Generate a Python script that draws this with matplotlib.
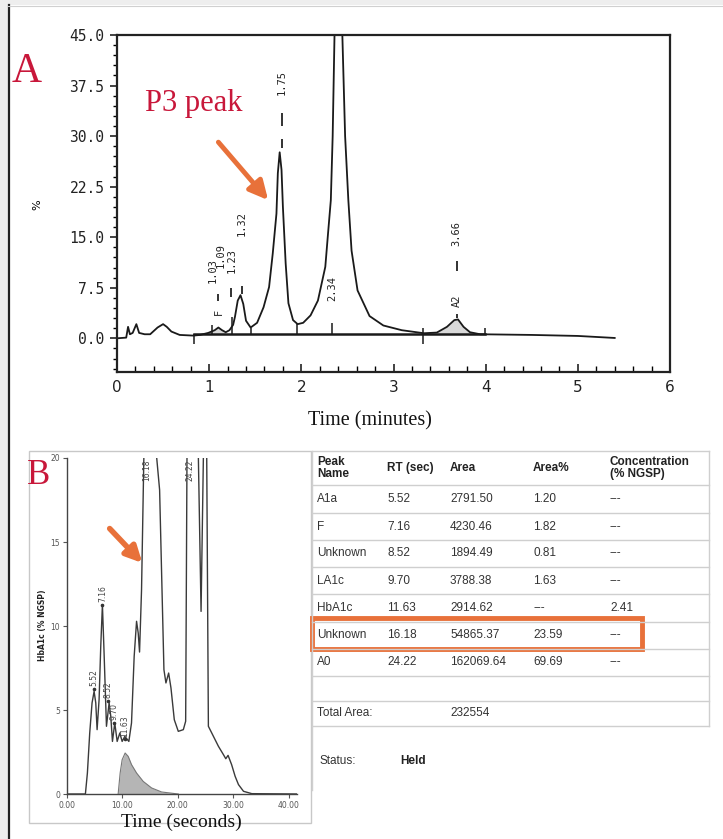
import numpy as np
import matplotlib.pyplot as plt
from matplotlib.patches import Rectangle
from matplotlib.ticker import MultipleLocator, FixedLocator

W, H = 723, 839

# %% data - panel A, HPLC trace (time in minutes, %)
a_time = [0.00, 0.10, 0.12, 0.14, 0.17, 0.21, 0.24, 0.30, 0.36, 0.44, 0.50, 0.54,
          0.59, 0.68, 0.83, 0.90, 0.99, 1.06, 1.10, 1.14, 1.18, 1.22, 1.26, 1.28,
          1.31, 1.34, 1.37, 1.40, 1.45, 1.52, 1.59, 1.65, 1.69, 1.73, 1.745, 1.765,
          1.785, 1.80, 1.83, 1.86, 1.91, 1.96, 2.02, 2.10, 2.18, 2.26, 2.29, 2.32,
          2.34, 2.36, 2.405, 2.445, 2.475, 2.51, 2.545, 2.61, 2.74, 2.89, 3.09,
          3.33, 3.47, 3.58, 3.66, 3.70, 3.76, 3.83, 3.94, 4.50, 5.00, 5.40]
a_pct = [0.0, 0.1, 1.7, 0.6, 0.8, 2.1, 0.8, 0.6, 0.6, 1.6, 2.1, 1.7,
         1.0, 0.5, 0.4, 0.5, 0.8, 1.2, 1.6, 1.2, 0.9, 1.2, 2.0, 3.2,
         5.6, 6.4, 5.1, 2.6, 1.6, 2.3, 4.6, 7.6, 12.6, 18.5, 24.5, 27.6,
         25.0, 19.5, 11.1, 5.2, 2.7, 2.1, 2.3, 3.4, 5.6, 10.6, 15.6, 20.5,
         30.0, 45.0, 60.0, 45.0, 30.0, 20.5, 13.0, 7.1, 3.3, 1.9, 1.2,
         0.75, 0.85, 1.7, 2.7, 2.8, 1.7, 0.9, 0.6, 0.5, 0.35, 0.05]

# peak retention-time labels (label, time, height of label centre)
a_lab = ['1.03', '1.09', '1.23', '1.32', '1.75', '2.34', '3.66', 'A2', 'F']
a_lab_t = [1.04, 1.125, 1.24, 1.355, 1.79, 2.34, 3.685, 3.685, 1.10]
a_lab_v = [10.1, 12.3, 11.6, 17.1, 37.9, 7.4, 15.6, 5.6, 3.9]
# peak delimiters on the baseline (time, low, high)
a_cut_t = [0.84, 1.03, 1.25, 1.45, 1.95, 2.33, 3.32, 3.99]
a_cut_lo = [-0.8, 0.6, 0.6, 0.6, 0.6, 0.6, -0.8, 0.6]
a_cut_hi = [0.6, 2.0, 3.1, 1.6, 2.1, 2.2, 1.6, 1.5]

# %% data - panel B, trace (time in seconds, HbA1c % NGSP)
b_time = [0.0, 3.32, 3.68, 4.10, 4.52, 4.89, 5.19, 5.43, 5.79, 6.09, 6.39, 6.69,
          7.12, 7.60, 7.90, 8.20, 8.62, 9.05, 9.53, 9.95, 10.43, 11.16, 11.64,
          12.12, 12.55, 12.85, 13.09, 13.45, 13.87, 15.0, 16.16, 16.71, 17.07,
          17.49, 17.85, 18.34, 18.76, 19.36, 20.08, 20.99, 21.41, 21.65, 22.7,
          23.70, 24.19, 24.61, 24.9, 25.21, 25.51, 26.12, 27.32, 28.23, 28.65,
          29.06, 29.70, 30.34, 30.94, 31.85, 33.35, 41.5]
b_val = [0.0, 0.0, 1.25, 3.63, 5.42, 6.11, 5.42, 3.83, 5.62, 8.79, 11.27, 8.39,
         4.03, 5.42, 4.62, 3.13, 4.23, 3.13, 3.63, 3.13, 3.43, 3.13, 4.23,
         8.19, 10.28, 9.58, 8.45, 12.16, 20.1, 30.0, 20.1, 18.1, 13.15,
         7.40, 6.61, 7.20, 6.31, 4.42, 3.73, 3.83, 4.33, 20.1, 30.0,
         20.1, 10.87, 20.1, 30.0, 20.1, 4.03, 3.63, 2.84, 2.34, 2.10,
         2.30, 1.75, 1.05, 0.56, 0.16, 0.02, 0.0]
# shaded HbA1c peak
b_fill_t = [9.23, 9.59, 9.95, 10.49, 11.04, 11.64, 12.55, 13.75, 15.26, 17.07, 20.08]
b_fill_v = [0.0, 1.25, 2.04, 2.44, 2.24, 1.75, 1.25, 0.75, 0.36, 0.12, 0.0]
b_lab = ['5.52', '7.16', '8.52', '9.70', '11.63']
b_lab_t = [4.89, 6.39, 7.45, 8.45, 10.45]
b_lab_v = [6.4, 11.4, 5.7, 4.4, 3.4]
b_top_lab = ['16.18', '24.22']
b_top_t = [14.35, 22.2]

# %% data - results table
col_heads = ['Peak\nName', 'RT (sec)', 'Area', 'Area%', 'Concentration\n(% NGSP)']
peak_name = ['A1a', 'F', 'Unknown', 'LA1c', 'HbA1c', 'Unknown', 'A0']
rt_sec = ['5.52', '7.16', '8.52', '9.70', '11.63', '16.18', '24.22']
area = ['2791.50', '4230.46', '1894.49', '3788.38', '2914.62', '54865.37', '162069.64']
area_pct = ['1.20', '1.82', '0.81', '1.63', '---', '23.59', '69.69']
conc = ['---', '---', '---', '---', '2.41', '---', '---']
total_area = '232554'
status = 'Held'

ORANGE = '#E8713A'
RED = '#C8173A'


def px_rect(x0, y0, x1, y1):
    return [x0 / W, 1 - y1 / H, (x1 - x0) / W, (y1 - y0) / H]


fig = plt.figure(figsize=(W / 100, H / 100), dpi=100)

# overlay in pixel units for frames, table and free text
ov = fig.add_axes([0, 0, 1, 1], zorder=0)
ov.set_xlim(0, W)
ov.set_ylim(H, 0)
ov.axis('off')
ov.add_patch(Rectangle((0, 0), 8, H, color='#eeeeee', lw=0))
ov.add_patch(Rectangle((0, 0), W, 5, color='#eeeeee', lw=0))
ov.plot([8.5, 8.5], [5, H], color='#222222', lw=1.6)
ov.plot([8, W], [5.5, 5.5], color='#d0d0d0', lw=0.8)

# %% panel A
ax1 = fig.add_axes(px_rect(117, 35, 670, 372), zorder=2)
ax1.set_facecolor('none')
ax1.plot(a_time, a_pct, color='#1a1a1a', lw=1.3)
ax1.plot([a_cut_t[0], a_cut_t[-1]], [0.6, 0.6], color='#1a1a1a', lw=1.8)
ta = np.array(a_time)
pa = np.array(a_pct)
m = (ta >= 3.47) & (ta <= 3.94)
ax1.fill_between(ta[m], 0.6, pa[m], color='#d9d9d9', lw=0)
m = (ta >= 0.99) & (ta <= 1.18)
ax1.fill_between(ta[m], 0.6, pa[m], color='#d9d9d9', lw=0)
ax1.vlines(a_cut_t, a_cut_lo, a_cut_hi, color='#1a1a1a', lw=1.1)
for lab, t, v in zip(a_lab, a_lab_t, a_lab_v):
    ax1.text(t, v, lab, rotation=90, ha='center', va='center',
             family='DejaVu Sans Mono', fontsize=7.5, color='#222222')
# small dashes above the labelled peaks
ax1.vlines([1.79, 1.79, 3.685, 3.685, 1.10, 1.24, 1.355],
           [31.5, 28.2, 10.0, 3.0, 5.5, 6.1, 6.6],
           [33.5, 29.5, 11.5, 3.6, 6.6, 7.4, 7.8], color='#222222', lw=1.3)

ax1.set_xlim(0, 6)
ax1.set_ylim(-5, 45)
ax1.xaxis.set_major_locator(MultipleLocator(1))
ax1.xaxis.set_minor_locator(MultipleLocator(0.2))
ax1.yaxis.set_major_locator(FixedLocator([0, 7.5, 15, 22.5, 30, 37.5, 45]))
ax1.yaxis.set_minor_locator(MultipleLocator(1.5))
ax1.yaxis.set_major_formatter(lambda v, p: f'{v:.1f}')
ax1.tick_params(axis='x', direction='in', length=6, width=1.2, labelsize=11,
                colors='#222222', pad=6)
ax1.tick_params(axis='x', which='minor', direction='in', length=4, width=1)
ax1.tick_params(axis='y', direction='out', length=5, width=1.2, labelsize=10.5,
                colors='#222222', pad=4)
ax1.tick_params(axis='y', which='minor', direction='out', length=3, width=1)
for lb in ax1.get_yticklabels():
    lb.set_family('DejaVu Sans Mono')
for s in ax1.spines.values():
    s.set_linewidth(1.6)
    s.set_color('#222222')

ax1.annotate('', xy=(1.64, 20.5), xytext=(1.10, 29.1),
             arrowprops=dict(arrowstyle='-|>', color=ORANGE, lw=3.5,
                             mutation_scale=28, shrinkA=0, shrinkB=0))
ov.text(12, 72, 'A', family='Liberation Serif', fontsize=30, color=RED,
        va='center', ha='left')
ov.text(145, 104, 'P3 peak', family='Liberation Serif', fontsize=22, color=RED,
        va='center', ha='left')
ov.text(37, 205, '%', rotation=90, fontsize=8, ha='center', va='center')
ov.text(370, 421, 'Time (minutes)', family='Liberation Serif', fontsize=14.5,
        ha='center', va='center', color='#111111')

# %% panel B
ov.add_patch(Rectangle((29, 451), 282, 372, fill=False, ec='#c8c8c8', lw=1))
ax2 = fig.add_axes(px_rect(67, 458, 297, 794), zorder=2)
ax2.set_facecolor('none')
ax2.fill_between(b_fill_t, 0, b_fill_v, color='#b5b5b5', lw=0)
ax2.plot(b_fill_t, b_fill_v, color='#777777', lw=0.8)
ax2.plot(b_time, b_val, color='#3a3a3a', lw=1.0)
for lab, t, v in zip(b_lab, b_lab_t, b_lab_v):
    ax2.text(t, v, lab, rotation=90, ha='center', va='bottom', fontsize=5.5,
             color='#444444')
    ax2.plot(t, v - 0.15, marker='o', ms=1.6, color='#333333')
for lab, t in zip(b_top_lab, b_top_t):
    ax2.text(t, 19.9, lab, rotation=90, ha='center', va='top', fontsize=5.5,
             color='#444444')
ax2.set_xlim(0, 41.5)
ax2.set_ylim(0, 20)
ax2.set_xticks([0, 10, 20, 30, 40])
ax2.set_xticklabels(['0.00', '10.00', '20.00', '30.00', '40.00'])
ax2.set_yticks([0, 5, 10, 15, 20])
ax2.tick_params(labelsize=5.5, colors='#555555', length=3, width=0.8, pad=2)
ax2.spines['top'].set_visible(False)
ax2.spines['right'].set_visible(False)
for s in ('left', 'bottom'):
    ax2.spines[s].set_color('#444444')
    ax2.spines[s].set_linewidth(1.0)
ax2.annotate('', xy=(13.6, 13.75), xytext=(7.7, 15.8),
             arrowprops=dict(arrowstyle='-|>', color=ORANGE, lw=4,
                             mutation_scale=24, shrinkA=0, shrinkB=0))
ov.text(27, 475, 'B', family='Liberation Serif', fontsize=25, color=RED,
        va='center', ha='left')
ov.text(42, 625, 'HbA1c (% NGSP)', rotation=90, fontsize=5.5, fontweight='bold',
        ha='center', va='center', color='#222222')
ov.text(181, 822, 'Time (seconds)', family='Liberation Serif', fontsize=14,
        ha='center', va='center', color='#111111')

# %% results table
tf = 'Liberation Sans'
col_x = [317, 387, 450, 533, 610]
row_y = [499, 527, 553, 581, 608, 635, 662]
grid_y = [451, 485, 513, 540, 567, 594, 622, 649, 676, 701, 726]
for y in grid_y:
    ov.plot([312, 709], [y, y], color='#cfcfcf', lw=1)
ov.plot([312, 312], [451, 790], color='#cfcfcf', lw=1)
ov.plot([709, 709], [451, 726], color='#cfcfcf', lw=1)
for x, head in zip(col_x, col_heads):
    ov.text(x, 468, head, family=tf, fontweight='bold', fontsize=8.5,
            va='center', ha='left', linespacing=1.0, color='#222222')
for i, y in enumerate(row_y):
    for x, col in zip(col_x, [peak_name, rt_sec, area, area_pct, conc]):
        ov.text(x, y, col[i], family=tf, fontsize=8.5, va='center', ha='left',
                color='#333333')
ov.text(col_x[0], 713, 'Total Area:', family=tf, fontsize=8.5, va='center',
        color='#333333')
ov.text(col_x[2], 713, total_area, family=tf, fontsize=8.5, va='center',
        color='#333333')
ov.add_patch(Rectangle((312, 618), 330, 31, fill=False, ec=ORANGE, lw=3.5))
ov.text(319, 761, 'Status:', family=tf, fontsize=8.5, va='center', color='#333333')
ov.text(400, 761, status, family=tf, fontsize=8.5, fontweight='bold',
        va='center', color='#222222')

fig.savefig('out.png', dpi=100)
